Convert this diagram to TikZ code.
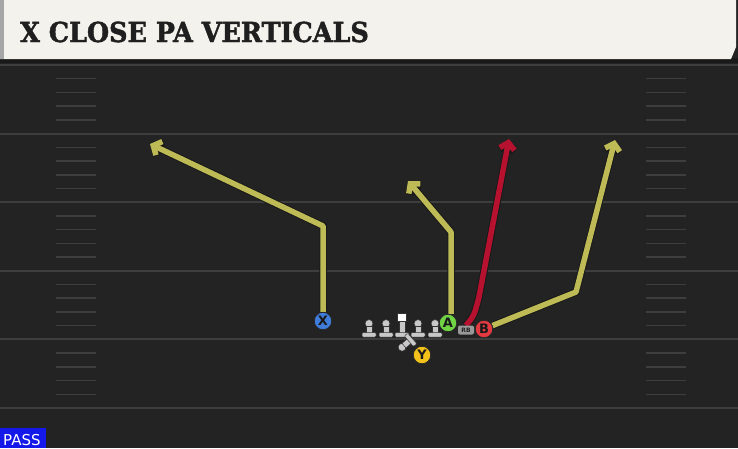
\documentclass[tikz,border=0pt]{standalone}
\usepackage{fontspec}
\setmainfont{DejaVu Serif}
\newfontfamily\titlefont{DejaVu Serif}[BoldFeatures={FakeBold=1.6}]
\newfontfamily\tokenfont{DejaVu Sans}
\usetikzlibrary{arrows.meta}

\pgfdeclarelayer{field}
\pgfdeclarelayer{routes}
\pgfsetlayers{field,routes,main}

\definecolor{turf}{RGB}{35,35,35}
\definecolor{yardline}{RGB}{62,62,62}
\definecolor{banner}{RGB}{244,242,236}
\definecolor{routeyellow}{RGB}{190,187,86}
\definecolor{routered}{RGB}{182,18,48}
\definecolor{xblue}{RGB}{64,124,218}
\definecolor{agreen}{RGB}{112,212,68}
\definecolor{bred}{RGB}{226,58,64}
\definecolor{yyellow}{RGB}{242,194,27}
\definecolor{tokengray}{RGB}{200,200,200}
\definecolor{passblue}{RGB}{20,24,232}

\tikzset{
	lineman/.pic = {
		\fill[tokengray,draw=black!80,line width=0.5pt] (0,-6.5) circle (3.9);
		\fill[tokengray,draw=black!80,line width=0.5pt] (-3,-4) rectangle (3,3);
		\fill[tokengray,draw=black!80,line width=0.5pt,rounded corners=1] (-7,2.5) rectangle (7,7);
	},
	snapper/.pic = {
		\fill[white,draw=black!80,line width=0.5pt] (-4.4,-17) rectangle (4.4,-8.3);
		\fill[tokengray,draw=black!80,line width=0.5pt] (-3,-8.3) rectangle (3,3);
		\fill[tokengray,draw=black!80,line width=0.5pt,rounded corners=1] (-7,2.5) rectangle (7,7);
	}
}

\begin{document}
\begin{tikzpicture}[
					x = 1pt, y = -1pt,
					player/.style = {circle, draw = black!85, line width = 0.8pt, minimum size = 17.5pt,
						inner sep = 0pt, font = \tokenfont\bfseries\fontsize{13}{13}\selectfont, text = black!90},
					route/.style = {line width = 5.5pt, line join = round, color = routeyellow,
						-{Straight Barb[length=6.5pt,width=15pt]},
						preaction = {draw = black!90, line width = 7.5pt}},
					hash/.style = {yardline, line width = 1.5pt}
					]
					\def\gap{68.6}

					\useasboundingbox (0,0) rectangle (738,448);
					\begin{pgfonlayer}{field}
					\fill[turf] (0,0) rectangle (738,448);

					\foreach \k in {0,...,5}
						\draw[yardline, line width = 2pt] (0,{65+\k*\gap}) -- (738,{65+\k*\gap});
					\foreach \k in {0,...,4}
						\foreach \j in {1,...,4}{
							\draw[hash] (56,{65+\k*\gap+\j*\gap/5}) -- (96,{65+\k*\gap+\j*\gap/5});
							\draw[hash] (646,{65+\k*\gap+\j*\gap/5}) -- (686,{65+\k*\gap+\j*\gap/5});
						}

					\fill[black!90] (0,58) rectangle (738,63);
					\fill[banner] (0,0) -- (736,0) -- (736,47) -- (731,59) -- (0,59) -- cycle;
					\fill[black!35] (0,0) rectangle (4,59);
					\end{pgfonlayer}
					\node[anchor = base west, inner sep = 0pt, text = black!88, xscale = 0.926,
						font = \titlefont\bfseries\fontsize{27.5}{27.5}\selectfont] (title) at (20,42) {X CLOSE PA VERTICALS};

					\coordinate (Xbreak) at (323,226);
					\coordinate (Xend) at (150,144);
					\coordinate (Abreak) at (451,232);
					\coordinate (Aend) at (408,181);
					\coordinate (RBbend) at (479,297);
					\coordinate (RBend) at (509,139);
					\coordinate (Bbreak) at (576,292);
					\coordinate (Bend) at (615,140);

					\node[player, fill = xblue] (X) at (323,321) {X};
					\node[player, fill = agreen] (A) at (448,323) {A};
					\node[player, fill = bred] (B) at (484,329) {B};
					\node[player, fill = yyellow] (Y) at (422,355) {Y};
					\node[fill = black!40, rounded corners = 2pt, minimum width = 16pt, minimum height = 9pt,
						inner sep = 0pt, font = \tokenfont\bfseries\fontsize{6}{6}\selectfont, text = black!85] (RB) at (466,330) {RB};

					\begin{pgfonlayer}{routes}
					\draw[route] (X) -- (Xbreak) -- (Xend);
					\draw[route] (A.north -| Abreak) -- (Abreak) -- (Aend);
					\draw[route, color = routered] (RB.north) .. controls (474,316) .. (RBbend) -- (RBend);
					\draw[route] (B) -- (Bbreak) -- (Bend);
					\end{pgfonlayer}

					\pic at (369,330) {lineman};
					\pic at (386,330) {lineman};
					\pic at (402,330) {snapper};
					\pic at (418,330) {lineman};
					\pic at (435,330) {lineman};
					\pic[rotate = 131] at (407,343) {lineman};

					\fill[passblue] (0,428) rectangle (46,448);
					\node[anchor = base west, inner sep = 0pt, text = white,
						font = \tokenfont\fontsize{15}{15}\selectfont] (pass) at (3,445) {PASS};

				\end{tikzpicture}
\end{document}
